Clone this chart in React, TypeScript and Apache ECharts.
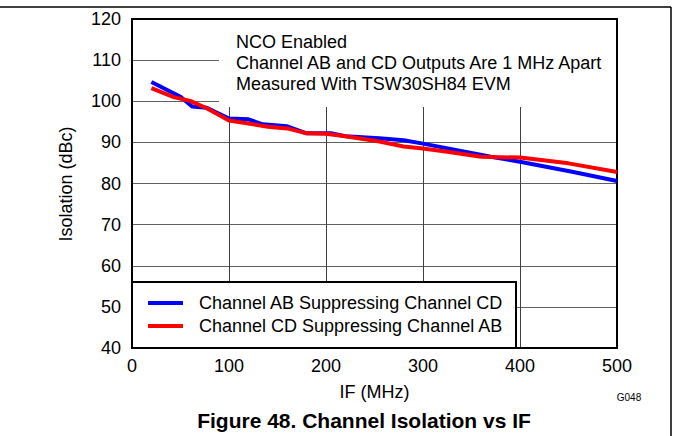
import React, { useEffect, useRef } from "react";
import * as echarts from "echarts";

const FONT = "'Liberation Sans', Arial, Helvetica, sans-serif";

const seriesNames = [
  "Channel AB Suppressing Channel CD",
  "Channel CD Suppressing Channel AB",
];

const abIF = [20, 50, 62, 77, 100, 120, 135, 160, 180, 205, 220, 255, 280, 300, 370, 400, 455, 500];
const abIso = [104.7, 101.1, 98.7, 98.4, 95.8, 95.6, 94.4, 93.9, 92.2, 92.2, 91.5, 91.0, 90.5, 89.7, 86.5, 85.3, 82.8, 80.6];

const cdIF = [20, 43, 60, 77, 100, 120, 140, 160, 180, 200, 220, 255, 280, 300, 325, 360, 400, 450, 500];
const cdIso = [103.2, 101.0, 100.1, 98.3, 95.3, 94.6, 93.8, 93.4, 92.2, 92.1, 91.5, 90.2, 89.0, 88.5, 87.7, 86.5, 86.3, 84.9, 82.8];

const annotationLines = [
  "NCO Enabled",
  "Channel AB and CD Outputs Are 1 MHz Apart",
  "Measured With TSW30SH84 EVM",
];

const xName = "IF (MHz)";
const yName = "Isolation (dBc)";
const figureTitle = "Figure 48. Channel Isolation vs IF";
const figureCode = "G048";

export default function App() {
  const ref = useRef<HTMLDivElement>(null);

  useEffect(() => {
    if (!ref.current) return;
    const chart = echarts.init(ref.current, undefined, { renderer: "svg" });

    const zip = (xs: number[], ys: number[]) => xs.map((x, i) => [x, ys[i]]);

    chart.setOption({
      animation: false,
      backgroundColor: "#fff",
      textStyle: { fontFamily: FONT },
      grid: {
        left: 132,
        top: 19,
        right: 57,
        bottom: 88,
        show: true,
        borderColor: "#000",
        borderWidth: 2,
        backgroundColor: "transparent",
        z: 1,
      },
      xAxis: {
        type: "value",
        min: 0,
        max: 500,
        interval: 100,
        axisLine: { show: false },
        axisTick: { show: false },
        axisLabel: { fontSize: 18, color: "#000", margin: 9, fontFamily: FONT },
        splitLine: { show: true, lineStyle: { color: "#404040", width: 1 } },
      },
      yAxis: {
        type: "value",
        min: 40,
        max: 120,
        interval: 10,
        axisLine: { show: false },
        axisTick: { show: false },
        axisLabel: { fontSize: 18, color: "#000", margin: 11, fontFamily: FONT },
        splitLine: { show: true, lineStyle: { color: "#606060", width: 1 } },
      },
      legend: {
        orient: "vertical",
        left: 148,
        top: 294,
        padding: 0,
        itemGap: 5,
        itemWidth: 35,
        itemHeight: 4,
        icon: "rect",
        z: 10,
        textStyle: { fontSize: 18, color: "#000", fontFamily: FONT, padding: [0, 0, 0, 11] },
        data: seriesNames,
      },
      series: [
        {
          name: seriesNames[0],
          type: "line",
          data: zip(abIF, abIso),
          symbol: "none",
          color: "#0000ff",
          lineStyle: { color: "#0000ff", width: 4 },
          z: 5,
        },
        {
          name: seriesNames[1],
          type: "line",
          data: zip(cdIF, cdIso),
          symbol: "none",
          color: "#ff0000",
          lineStyle: { color: "#ff0000", width: 4 },
          z: 6,
        },
      ],
      graphic: [
        // page frame lines
        { type: "line", z: 20, shape: { x1: 0, y1: 7, x2: 671, y2: 7 }, style: { stroke: "#000", lineWidth: 1.5 } },
        { type: "line", z: 20, shape: { x1: 671, y1: 7, x2: 671, y2: 436 }, style: { stroke: "#000", lineWidth: 1.5 } },
        // annotation background box
        { type: "rect", z: 3, shape: { x: 219, y: 20, width: 397, height: 87 }, style: { fill: "#fff" } },
        ...annotationLines.map((t, i) => ({
          type: "text",
          z: 4,
          x: 236,
          y: 42 + i * 21,
          style: { text: t, font: `18px ${FONT}`, fill: "#000", textAlign: "left", verticalAlign: "middle", textVerticalAlign: "middle" },
        })),
        // legend box
        { type: "rect", z: 8, shape: { x: 132, y: 282, width: 384, height: 66 }, style: { fill: "#fff", stroke: "#000", lineWidth: 2 } },
        // axis names
        {
          type: "text",
          z: 4,
          x: 374.5,
          y: 392,
          style: { text: xName, font: `18px ${FONT}`, fill: "#000", textAlign: "center", verticalAlign: "middle", textVerticalAlign: "middle" },
        },
        {
          type: "text",
          z: 4,
          x: 66,
          y: 184,
          rotation: Math.PI / 2,
          style: { text: yName, font: `18px ${FONT}`, fill: "#000", textAlign: "center", verticalAlign: "middle", textVerticalAlign: "middle" },
        },
        {
          type: "text",
          z: 4,
          x: 629,
          y: 397,
          style: { text: figureCode, font: `10px ${FONT}`, fill: "#000", textAlign: "center", verticalAlign: "middle", textVerticalAlign: "middle" },
        },
        {
          type: "text",
          z: 4,
          x: 364,
          y: 420,
          style: { text: figureTitle, font: `bold 21px ${FONT}`, fill: "#000", textAlign: "center", verticalAlign: "middle", textVerticalAlign: "middle" },
        },
      ],
    });

    return () => chart.dispose();
  }, []);

  return (
    <div
      ref={ref}
      style={{ position: "fixed", left: 0, top: 0, width: 674, height: 436, background: "#fff" }}
    />
  );
}
